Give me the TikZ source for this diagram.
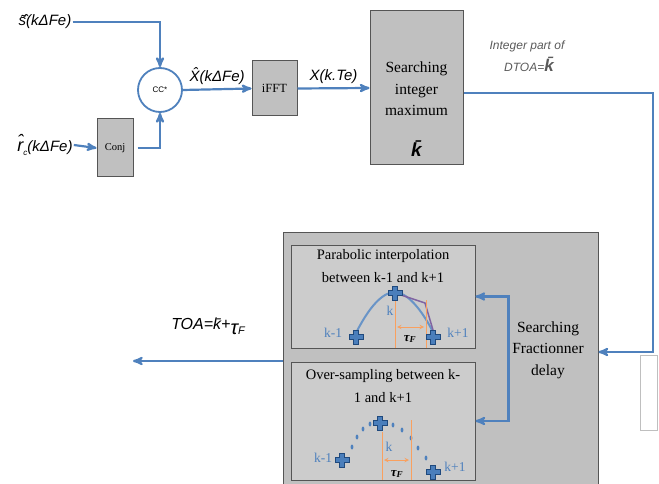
\documentclass[tikz,border=0pt]{standalone}
\usepackage{fontspec}
\setmainfont{Liberation Serif}
\newfontfamily\labfont{Liberation Sans}
\usetikzlibrary{arrows,positioning,calc}

\definecolor{lineblue}{RGB}{79,129,189}
\definecolor{crossblue}{RGB}{74,126,187}
\definecolor{crossedge}{RGB}{31,73,125}
\definecolor{boxfill}{RGB}{192,192,192}
\definecolor{innerfill}{RGB}{204,204,204}
\definecolor{boxedge}{RGB}{85,85,85}
\definecolor{tauorange}{RGB}{249,160,95}
\definecolor{interpurple}{RGB}{128,100,162}
\definecolor{notegray}{RGB}{90,90,90}

\tikzset{
  pics/sample/.style={code={
    \filldraw[fill=crossblue,draw=crossedge,line width=0.8pt]
      (-2.5,-7) -- (2.5,-7) -- (2.5,-2.5) -- (7,-2.5) -- (7,2.5) -- (2.5,2.5)
      -- (2.5,7) -- (-2.5,7) -- (-2.5,2.5) -- (-7,2.5) -- (-7,-2.5) -- (-2.5,-2.5) -- cycle;}}
}

\begin{document}
\begin{tikzpicture}[x=1pt,y=-1pt,>=stealth',semithick]
      \tikzstyle{block}=[draw=boxedge,line width=1pt,fill=boxfill,inner sep=0pt]
      \tikzstyle{flow}=[->,draw=lineblue,line width=2.2pt]
      \tikzstyle{lab}=[font=\labfont\itshape\fontsize{15}{17}\selectfont,inner sep=1pt]
      \tikzstyle{boxtext}=[align=center,font=\fontsize{15.5}{21.5}\selectfont]
      \tikzstyle{subtext}=[align=center,font=\fontsize{14.5}{23}\selectfont]
      \tikzstyle{tick}=[font=\fontsize{13.5}{15}\selectfont,text=lineblue,inner sep=0pt]
      \tikzstyle{tau}=[draw=tauorange,line width=1pt]

      \clip (0,0) rectangle (659,484);

      % upper chain
      \node[lab]                (sin)    at (45,22)    {s̃̂(kΔFe)};
      \node[lab]                (rin)    at (45,145)   {{\fontsize{18}{18}\selectfont r̂}\raisebox{-4pt}{\fontsize{8}{8}\selectfont c}(kΔFe)};
      \node[block,minimum width=36,minimum height=58] (conj) at (115,148) {\fontsize{10.5}{12}\selectfont Conj};
      \node[circle,draw=lineblue,line width=1.8pt,fill=white,minimum size=44,inner sep=0pt]
                                (cc)     at (160,90)   {\labfont\fontsize{8}{8}\selectfont CC*};
      \node[block,minimum width=45,minimum height=55] (ifft) at (274.5,88.5) {\fontsize{12.5}{14}\selectfont iFFT};
      \node[block,minimum width=93,minimum height=154] (search) at (416.5,88) {};
      \node[boxtext]            (searchtxt) at (416.5,89) {Searching\\integer\\maximum};
      \node[lab,font=\labfont\bfseries\itshape\fontsize{19}{19}\selectfont] (kbar) at (416.5,149) {k̄};
      \node[lab,font=\labfont\itshape\fontsize{12}{22}\selectfont,text=notegray,align=center]
                                (dtoa)   at (527,56)   {Integer part of\\\hspace*{4pt}DTOA=\textbf{\fontsize{17}{17}\selectfont k̄}};

      \path (sin.east)  edge[flow,to path={-| (\tikztotarget)}] (cc.north)
            (rin.east)  edge[flow] (conj.west)
            (cc.east)   edge[flow] node[lab,above=3pt] (xhat) {X̂(kΔFe)} (ifft.west)
            (ifft.east) edge[flow] node[lab,above=3pt] (xte) {X(k.Te)} (search.west);
      \draw[flow,shorten <=4pt] (conj.east) -| (cc.south);

      % fractional search
      \node[block,minimum width=315,minimum height=272] (frac) at (440.5,368) {};
      \node[boxtext]            (fractxt) at (548,350) {Searching\\Fractionner\\delay};
      \node[block,fill=innerfill,minimum width=184,minimum height=103] (parab) at (383,296.5) {};
      \node[block,fill=innerfill,minimum width=184,minimum height=118] (over)  at (383,421)   {};
      \node[subtext]            (parabtxt) at (383,266.5) {Parabolic interpolation\\between k-1 and k+1};
      \node[subtext]            (overtxt)  at (383,386.5) {Over-sampling between k-\\1 and k+1};

      \coordinate (turn) at (653,352);
      \coordinate (toa)  at (133,361);
      \draw[flow] ([yshift=-5pt]search.east) -| (turn) -- (turn -| frac.east);
      \draw[flow,<->] (parab.east) -- ++(33,0) |- (over.east);
      \draw[flow] (frac.west |- toa) -- (toa);
      \node[lab,font=\labfont\itshape\fontsize{16}{18}\selectfont] (toalab) at (208,326)
            {TOA=k̄+\raisebox{-5pt}{{\fontsize{20}{20}\selectfont τ}\fontsize{11}{11}\selectfont F}};

      % parabolic sketch
      \draw[draw=lineblue!85,line width=2pt] (357,331) .. controls (372,302) and (385,292) .. (395,292)
            .. controls (410,293) and (425,316) .. (433,332);
      \draw[draw=interpurple,line width=1.5pt] (395,293) -- (425,303) -- (433,330);
      \draw[tau] (395,300) -- (395,348);
      \draw[tau] (426,300) -- (426,348);
      \draw[tau,<->,>=stealth] (397,327) -- (424,327);
      \pic at (356,337) {sample};
      \pic at (395,293) {sample};
      \pic at (433,337) {sample};
      \node[tick] (pk)   at (390,311) {k};
      \node[tick] (pkm)  at (333,333) {k-1};
      \node[tick] (pkp)  at (458,333) {k+1};
      \node[font=\bfseries\itshape\fontsize{13}{13}\selectfont,inner sep=0pt] (ptau) at (410,339) {τ\textsubscript{F}};

      % over-sampling sketch
      \foreach \px/\py in {352/447,357/437,363/429,370/424,393/425,402/430,411/438,418/448,426/458}
        \fill[lineblue] (\px,\py) ellipse (1.4 and 2.5);
      \draw[tau] (382,432) -- (382,480);
      \draw[tau] (411,420) -- (411,480);
      \draw[tau,<->,>=stealth] (384,460) -- (409,460);
      \pic at (342,460) {sample};
      \pic at (380,423) {sample};
      \pic at (433,472) {sample};
      \node[tick] (ok)   at (389,447) {k};
      \node[tick] (okm)  at (323,458) {k-1};
      \node[tick] (okp)  at (455,467) {k+1};
      \node[font=\bfseries\itshape\fontsize{13}{13}\selectfont,inner sep=0pt] (otau) at (397,474) {τ\textsubscript{F}};

      % stray frame at the edge
      \draw[black!25,line width=0.6pt] (640,355) rectangle (657,430);
\end{tikzpicture}
\end{document}
